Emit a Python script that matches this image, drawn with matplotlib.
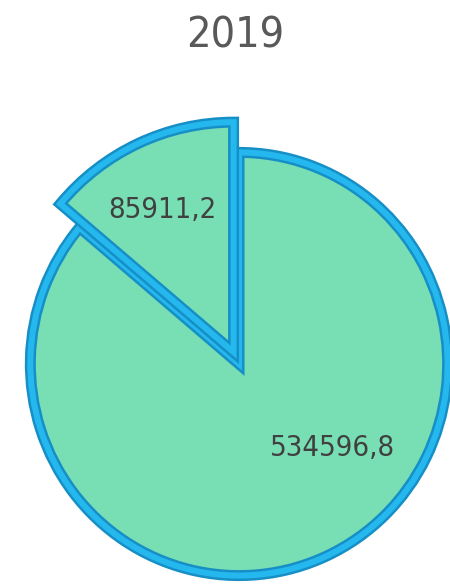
import matplotlib
matplotlib.use("Agg")
import matplotlib.pyplot as plt
from matplotlib.patches import Wedge

# ---- data ----
title = "2019"
categories = ["A", "B"]
values = [85911.2, 534596.8]

# ---- style ----
plt.rcParams["font.family"] = ["DejaVu Sans"]
plt.rcParams["font.stretch"] = "condensed"

DPI = 100
W, H = 450, 586
fig = plt.figure(figsize=(W / DPI, H / DPI), dpi=DPI)
ax = fig.add_axes([0, 0, 1, 1])

FILL = "#78DFB5"
EDGE_DARK = "#168FC6"
EDGE = "#24B8EE"
px = 72.0 / DPI  # points per pixel

labels = [f"{v:.1f}".replace(".", ",") for v in values]
wedges, texts = ax.pie(values, startangle=90, counterclock=True,
                       explode=[0.06, 0.0], radius=0.975,
                       labels=labels, labeldistance=0.75,
                       wedgeprops=dict(facecolor=FILL, edgecolor=EDGE_DARK,
                                       linewidth=11 * px, joinstyle="miter"),
                       textprops=dict(color="#404040", fontsize=21,
                                      fontstretch="condensed"))
wedges[0].set_radius(1.06)
wedges[0].set_zorder(3)
wedges[1].set_zorder(2)

# lighter inner band of the bevelled border
for w in wedges:
    hi = Wedge(w.center, w.r, w.theta1, w.theta2, facecolor="none",
               edgecolor=EDGE, linewidth=6 * px, joinstyle="miter",
               zorder=w.get_zorder() + 0.1)
    ax.add_patch(hi)

# label placement
label_pos = [(-0.36, 0.71), (0.435, -0.385)]
for t, p in zip(texts, label_pos):
    t.set_position(p)
    t.set_ha("center")
    t.set_va("center")
    t.set_zorder(5)

# map data units to pixels
cx, cy, rx, ry = 239, 364, 214, 217
ax.set_aspect("auto")
ax.set_xlim(-cx / rx, (W - cx) / rx)
ax.set_ylim(-(H - cy) / ry, cy / ry)
ax.axis("off")

fig.text(235 / W, 1 - 36 / H, title, ha="center", va="center",
         fontsize=31, color="#595959", fontstretch="condensed")

fig.savefig("out.png", dpi=DPI)
